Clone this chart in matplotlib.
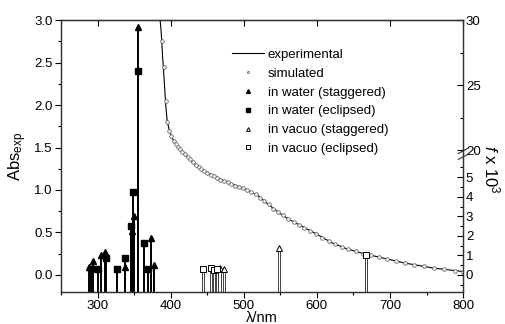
import numpy as np
import matplotlib
matplotlib.use("Agg")
import matplotlib.pyplot as plt
from matplotlib.ticker import FixedLocator, MultipleLocator

plt.rcParams['font.family'] = ['Liberation Sans', 'DejaVu Sans']
plt.rcParams['mathtext.fontset'] = 'custom'
plt.rcParams['mathtext.rm'] = 'Liberation Sans'
plt.rcParams['mathtext.it'] = 'Liberation Sans:italic'

# experimental absorbance (left axis)
exp_wl = [384, 385, 387, 389, 391, 393, 395, 398, 402, 408, 415, 425, 435, 447, 460,
          475, 490, 505, 520, 535, 550, 565, 580, 600, 620, 640, 660, 680, 700, 720,
          740, 760, 780, 800]
exp_abs = [3.3, 3.05, 2.85, 2.55, 2.30, 2.02, 1.82, 1.70, 1.61, 1.53, 1.46, 1.37, 1.29,
           1.22, 1.16, 1.10, 1.05, 1.00, 0.93, 0.82, 0.72, 0.64, 0.57, 0.48, 0.38, 0.31,
           0.26, 0.22, 0.18, 0.14, 0.11, 0.08, 0.06, 0.04]

# simulated spectrum
sim_wl = [388, 390.5, 393, 395.5, 398, 401, 404, 407, 410, 413, 416, 419.5, 423, 426.5,
          430, 434, 438, 442, 446, 450, 454.5, 459, 463.5, 468, 473, 478, 483, 488,
          493.5, 499, 504.5, 510, 516, 522, 528, 534, 540.5, 547, 554, 561, 568, 575,
          583, 591, 599, 607, 616, 625, 634, 643, 653, 663, 674, 685, 696, 708, 720,
          733, 746, 760, 774, 789, 800]
sim_abs = [2.75, 2.45, 2.05, 1.80, 1.70, 1.63, 1.58, 1.54, 1.51, 1.48, 1.45, 1.42, 1.39,
           1.36, 1.33, 1.30, 1.27, 1.25, 1.22, 1.20, 1.18, 1.16, 1.14, 1.12, 1.10, 1.09,
           1.07, 1.05, 1.04, 1.02, 1.00, 0.98, 0.95, 0.91, 0.87, 0.83, 0.78, 0.74, 0.70,
           0.66, 0.62, 0.59, 0.55, 0.52, 0.48, 0.44, 0.40, 0.36, 0.33, 0.30, 0.28, 0.25,
           0.23, 0.21, 0.19, 0.16, 0.14, 0.12, 0.10, 0.08, 0.065, 0.05, 0.04]

# stick spectra (heights in left-axis units)
water_stag_wl = [288.7, 293.3, 304.3, 309.7, 337.5, 347.5, 349.5, 355, 373.5, 376.8]
water_stag_h = [0.09, 0.165, 0.24, 0.27, 0.09, 0.52, 0.69, 2.92, 0.43, 0.12]
water_ecl_wl = [291, 301, 311.6, 326.6, 338, 345.8, 349, 355, 364, 369.4]
water_ecl_h = [0.075, 0.067, 0.20, 0.067, 0.20, 0.58, 0.98, 2.40, 0.38, 0.067]
vac_stag_wl = [467, 473, 548]
vac_stag_h = [0.08, 0.07, 0.32]
vac_ecl_wl = [444, 455, 459, 463, 667]
vac_ecl_h = [0.07, 0.08, 0.06, 0.07, 0.24]

YMIN = -0.2

# broken right axis: f x 10^3 -> left-axis units
f_pts = [-5, 6, 20, 40]
l_pts = [-1.15, 1.38, 1.47, 4.53]


def fwd(f):
    return np.interp(f, f_pts, l_pts)


def inv(v):
    return np.interp(v, l_pts, f_pts)


fig = plt.figure(figsize=(5.05, 3.24), dpi=100)
ax = fig.add_axes([0.121, 0.099, 0.796, 0.839])

ax.plot(exp_wl, exp_abs, '-', color='black', lw=0.8, label='experimental', zorder=3)
ax.plot(sim_wl, sim_abs, 'o', ms=2.6, mfc='white', mec='#666666', mew=0.6,
        label='simulated', zorder=4)

for wl, h in zip(vac_stag_wl + vac_ecl_wl, vac_stag_h + vac_ecl_h):
    ax.bar(wl, h - YMIN, bottom=YMIN, width=3.5, color='white', edgecolor='#222222',
           lw=0.6, zorder=2)
ax.vlines(water_stag_wl + water_ecl_wl, YMIN, water_stag_h + water_ecl_h,
          color='black', lw=1.4, zorder=2)

ax.plot(water_stag_wl, water_stag_h, '^', ms=5, color='black', ls='none',
        label='in water (staggered)', zorder=5)
ax.plot(water_ecl_wl, water_ecl_h, 's', ms=4.5, color='black', ls='none',
        label='in water (eclipsed)', zorder=5)
ax.plot(vac_stag_wl, vac_stag_h, '^', ms=5, mfc='white', mec='black', mew=0.7,
        ls='none', label='in vacuo (staggered)', zorder=5)
ax.plot(vac_ecl_wl, vac_ecl_h, 's', ms=4.5, mfc='white', mec='black', mew=0.7,
        ls='none', label='in vacuo (eclipsed)', zorder=5)

ax.set_xlim(250, 800)
ax.set_ylim(YMIN, 3.0)
ax.xaxis.set_major_locator(MultipleLocator(100))
ax.xaxis.set_minor_locator(MultipleLocator(50))
ax.yaxis.set_major_locator(MultipleLocator(0.5))
ax.yaxis.set_minor_locator(MultipleLocator(0.25))
ax.tick_params(axis='both', which='major', direction='out', length=4, width=0.8,
               labelsize=9.5, pad=2)
ax.tick_params(axis='both', which='minor', direction='out', length=2, width=0.8)
ax.set_xlabel('λ/nm', fontsize=10.5, labelpad=-1)
ax.set_ylabel(r'Abs$_{\mathregular{exp}}$', fontsize=12, labelpad=4)

top = ax.secondary_xaxis('top')
top.xaxis.set_major_locator(MultipleLocator(100))
top.tick_params(direction='in', length=4, width=0.8, labeltop=False)

ax2 = ax.twinx()
ax2.set_yscale('function', functions=(fwd, inv))
ax2.set_ylim(inv(YMIN), 30)
ax2.yaxis.set_major_locator(FixedLocator([0, 1, 2, 3, 4, 5, 20, 25, 30]))
ax2.yaxis.set_minor_locator(FixedLocator([-0.5, 0.5, 1.5, 2.5, 3.5, 4.5, 5.5, 22.5, 27.5]))
ax2.yaxis.set_major_formatter(lambda v, p: f'{v:g}')
ax2.tick_params(axis='y', which='major', direction='in', length=4, width=0.8,
                labelsize=9.5, pad=2)
ax2.tick_params(axis='y', which='minor', direction='in', length=2, width=0.8)
ax2.set_ylabel(r'$\mathit{f}$ x 10$^{\mathregular{3}}$', fontsize=12, rotation=270,
               va='center')
ax2.yaxis.set_label_coords(1.07, 0.45)

for a in (ax, ax2):
    for s in a.spines.values():
        s.set_color('#333333')
        s.set_linewidth(0.9)

# break marks on right spine
bt = ax.get_yaxis_transform()
for y0 in (1.39, 1.46):
    ax.plot([0.988, 1.012], [y0 - 0.03, y0 + 0.03], transform=bt, color='#333333',
            lw=0.8, clip_on=False, zorder=6)

ax.legend(loc='upper left', bbox_to_anchor=(0.425, 0.895), frameon=False,
          fontsize=9.5, handlelength=2.4, markerscale=0.55, borderpad=0,
          borderaxespad=0, labelspacing=0.5, handletextpad=0.3)

fig.savefig('out.png', dpi=100)
